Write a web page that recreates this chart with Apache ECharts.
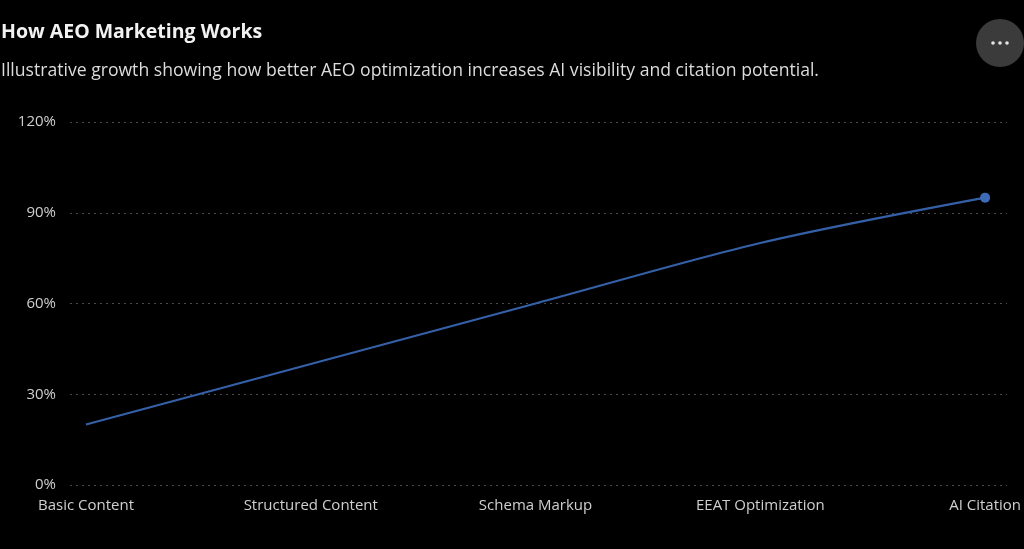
<!DOCTYPE html>
<html>
<head>
<meta charset="utf-8">
<script src="https://cdn.jsdelivr.net/npm/echarts@6/dist/echarts.min.js"></script>
<style>
html,body{margin:0;padding:0;background:#000;}
#chart{width:1024px;height:549px;}
</style>
</head>
<body>
<div id="chart"></div>
<script>
// chart data
var stages = ['Basic Content', 'Structured Content', 'Schema Markup', 'EEAT Optimization', 'AI Citation'];
var visibility = [20, 40, 60, 80, 95];
var yTicks = [0, 30, 60, 90, 120];

var chart = echarts.init(document.getElementById('chart'));
var font = '"Open Sans", "Noto Sans", sans-serif';
var last = visibility.length - 1;

var option = {
	backgroundColor: '#000',
	animation: false,
	title: [
		{ text: 'How AEO Marketing Works', left: 1, top: 22, padding: 0,
		  textStyle: { color: '#f2f2f2', fontSize: 19.5, fontWeight: 'bold', fontFamily: font } },
		{ text: 'Illustrative growth showing how better AEO optimization increases AI visibility and citation potential.',
		  left: 1, top: 62, padding: 0,
		  textStyle: { color: '#dcdcdc', fontSize: 17.6, fontWeight: 'normal', fontFamily: font } }
	],
	grid: [
		{ left: 86, right: 34, top: 122, bottom: 64 },	// data
		{ left: 70, right: 17, top: 122, bottom: 64 }	// gridlines + y labels
	],
	xAxis: [
		{ type: 'category', gridIndex: 0, data: stages, boundaryGap: false,
		  axisLine: { show: false }, axisTick: { show: false },
		  axisLabel: { color: '#cfcfcf', fontSize: 15, margin: 13, fontFamily: font, interval: 0 } },
		{ type: 'value', gridIndex: 1, show: false }
	],
	yAxis: [
		{ type: 'value', gridIndex: 0, min: yTicks[0], max: yTicks[yTicks.length - 1], interval: 30, show: false },
		{ type: 'value', gridIndex: 1, min: yTicks[0], max: yTicks[yTicks.length - 1], interval: 30,
		  axisLine: { show: false }, axisTick: { show: false },
		  axisLabel: { color: '#cfcfcf', fontSize: 15, margin: 14, fontFamily: font, formatter: '{value}%' },
		  splitLine: { lineStyle: { color: '#4a4a4a', type: [2, 4], width: 1 } } }
	],
	series: [{
		type: 'line',
		xAxisIndex: 0, yAxisIndex: 0,
		data: visibility,
		smooth: 0.3,
		lineStyle: { color: '#3560a8', width: 2.2 },
		itemStyle: { color: '#3d6bb8' },
		symbol: 'circle',
		symbolSize: function (v, p) { return p.dataIndex === last ? 10 : 0; }
	}],
	graphic: [
		{ type: 'circle', shape: { cx: 1000, cy: 43, r: 24 }, style: { fill: '#3b3b3b' } },
		{ type: 'circle', shape: { cx: 993, cy: 43, r: 1.8 }, style: { fill: '#e6e6e6' } },
		{ type: 'circle', shape: { cx: 1000, cy: 43, r: 1.8 }, style: { fill: '#e6e6e6' } },
		{ type: 'circle', shape: { cx: 1007, cy: 43, r: 1.8 }, style: { fill: '#e6e6e6' } }
	]
};
chart.setOption(option);
</script>
</body>
</html>
